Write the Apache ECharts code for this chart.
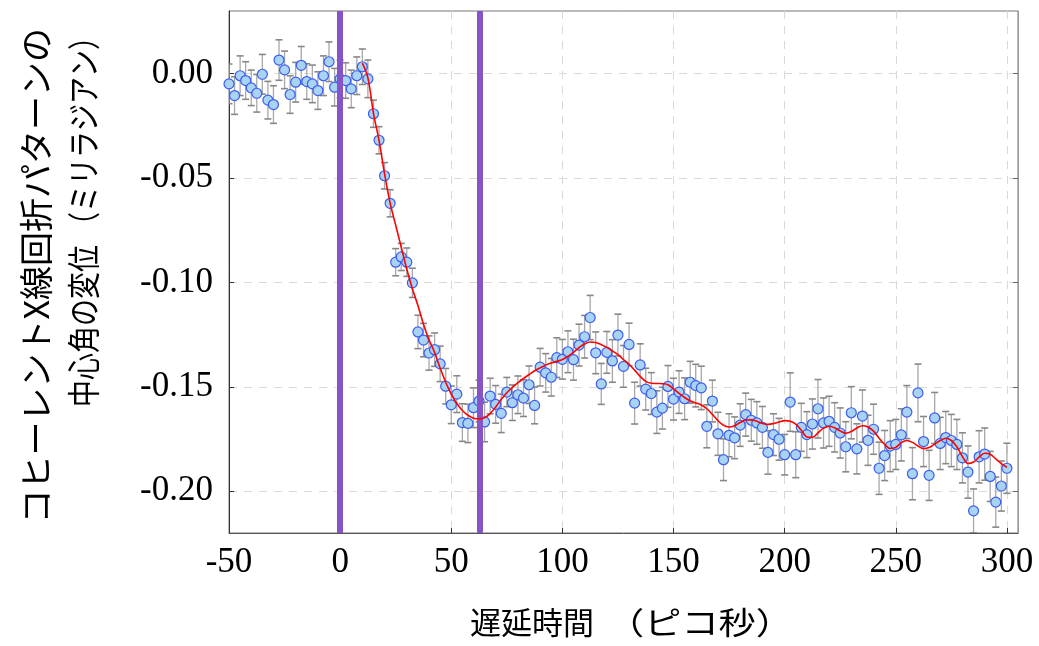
<!DOCTYPE html>
<html>
<head>
<meta charset="utf-8">
<script src="https://cdn.jsdelivr.net/npm/echarts@6/dist/echarts.min.js"></script>
<style>
html,body{margin:0;padding:0;background:#fff;}
#chart{width:1039px;height:646px;}
</style>
</head>
<body>
<div id="chart"></div>
<script>
// ---- data ----
const delay = [-50,-47.5,-45,-42.5,-40,-37.5,-35,-32.5,-30,-27.5,-25,-22.5,-20,-17.5,-15,-12.5,-10,-7.5,-5,-2.5,
  0,2.5,5,7.5,10,12.5,15,17.5,20,22.5,25,27.5,30,32.5,35,37.5,40,42.5,45,47.5,
  50,52.5,55,57.5,60,62.5,65,67.5,70,72.5,75,77.5,80,82.5,85,87.5,90,92.5,95,97.5,
  100,102.5,105,107.5,110,112.5,115,117.5,120,122.5,125,127.5,130,132.5,135,137.5,140,142.5,145,147.5,
  150,152.5,155,157.5,160,162.5,165,167.5,170,172.5,175,177.5,180,182.5,185,187.5,190,192.5,195,197.5,
  200,202.5,205,207.5,210,212.5,215,217.5,220,222.5,225,227.5,230,232.5,235,237.5,240,242.5,245,247.5,
  250,252.5,255,257.5,260,262.5,265,267.5,270,272.5,275,277.5,280,282.5,285,287.5,290,292.5,295,297.5,300];

const shift = [-0.0049,-0.0105,-0.0010,-0.0033,-0.0068,-0.0094,-0.0003,-0.0127,-0.0148,0.0065,
  0.0018,-0.0100,-0.0041,0.0040,-0.0038,-0.0049,-0.0081,-0.0010,0.0057,-0.0065,
  -0.0025,-0.0033,-0.0073,-0.0010,0.0033,-0.0025,-0.0192,-0.0319,-0.0489,-0.0621,
  -0.0903,-0.0878,-0.0903,-0.1002,-0.1237,-0.1276,-0.1338,-0.1322,-0.1390,-0.1497,
  -0.1586,-0.1535,-0.1671,-0.1675,-0.1600,-0.1568,-0.1668,-0.1544,-0.1584,-0.1627,
  -0.1525,-0.1576,-0.1538,-0.1554,-0.1490,-0.1589,-0.1406,-0.1433,-0.1454,-0.1360,
  -0.1368,-0.1332,-0.1370,-0.1300,-0.1260,-0.1168,-0.1337,-0.1486,-0.1335,-0.1376,
  -0.1252,-0.1402,-0.1297,-0.1578,-0.1395,-0.1511,-0.1532,-0.1621,-0.1602,-0.1498,
  -0.1559,-0.1525,-0.1557,-0.1478,-0.1494,-0.1505,-0.1689,-0.1568,-0.1725,-0.1849,
  -0.1732,-0.1744,-0.1683,-0.1633,-0.1660,-0.1673,-0.1694,-0.1814,-0.1729,-0.1751,
  -0.1825,-0.1573,-0.1825,-0.1694,-0.1729,-0.1678,-0.1605,-0.1673,-0.1665,-0.1694,
  -0.1721,-0.1787,-0.1624,-0.1797,-0.1640,-0.1756,-0.1703,-0.1890,-0.1829,-0.1784,
  -0.1776,-0.1730,-0.1621,-0.1916,-0.1529,-0.1762,-0.1924,-0.1649,-0.1771,-0.1743,
  -0.1757,-0.1776,-0.1840,-0.1908,-0.2094,-0.1835,-0.1822,-0.1929,-0.2052,-0.1975,-0.1890];

const errBar = [0.0095,0.009,0.0095,0.009,0.0085,0.009,0.0095,0.009,0.009,0.0097,
  0.009,0.009,0.0095,0.009,0.0085,0.009,0.009,0.0095,0.0095,0.009,
  0.009,0.0085,0.009,0.009,0.0085,0.009,
  0.0065,0.0065,0.0063,0.0065,0.0065,0.0065,0.0068,0.007,
  0.008,0.008,0.0082,0.008,0.0085,0.0085,0.009,0.0088,0.009,0.0092,
  0.0095,0.010,0.0095,0.0085,0.009,0.0092,0.007,0.0085,0.009,0.0088,0.009,0.0088,0.009,0.0092,0.009,0.0095,
  0.0095,0.010,0.0098,0.0100,0.0102,0.0106,0.0100,0.0098,0.0100,0.0102,
  0.0100,0.0100,0.0102,0.0100,0.0101,0.0100,0.0100,0.0102,0.0100,0.0100,
  0.0100,0.0102,0.0100,0.0100,0.0102,0.0104,0.0103,0.0100,0.0103,0.0100,
  0.0103,0.0100,0.0102,0.0103,0.0100,0.0102,0.0100,0.0104,0.0100,0.0100,
  0.0097,0.0140,0.0110,0.0115,0.0110,0.0120,0.0140,0.0120,0.0120,0.0118,
  0.0120,0.0120,0.0125,0.0120,0.0125,0.0120,0.0120,0.0125,0.0120,0.0122,
  0.0120,0.0125,0.0127,0.0125,0.0138,0.0120,0.0120,0.0122,0.0125,0.0125,
  0.0125,0.0120,0.0120,0.0125,0.0105,0.0125,0.0125,0.0120,0.0120,0.0120,0.0120];

const fitDelay = [10,12.5,15,17.5,20,22.5,25,27.5,30,32.5,35,37.5,40,42.5,45,47.5,
  50,52.5,55,57.5,60,62.5,65,67.5,70,72.5,75,77.5,80,82.5,85,87.5,90,92.5,95,97.5,
  100,102.5,105,107.5,110,112.5,115,117.5,120,122.5,125,127.5,130,132.5,135,137.5,140,142.5,145,147.5,
  150,152.5,155,157.5,160,162.5,165,167.5,170,172.5,175,177.5,180,182.5,185,187.5,190,192.5,195,197.5,
  200,202.5,205,207.5,210,212.5,215,217.5,220,222.5,225,227.5,230,232.5,235,237.5,240,242.5,245,247.5,
  250,252.5,255,257.5,260,262.5,265,267.5,270,272.5,275,277.5,280,282.5,285,287.5,290,292.5,295,297.5,300];

const fitShift = [0.0050,-0.0020,-0.0190,-0.0320,-0.0480,-0.0620,-0.0726,-0.0831,-0.0937,-0.1030,
  -0.1110,-0.1200,-0.1275,-0.1335,-0.1410,-0.1478,-0.1535,-0.1580,-0.1613,-0.1636,
  -0.1650,-0.1653,-0.1648,-0.1628,-0.1596,-0.1560,-0.1528,-0.1503,-0.1480,-0.1460,
  -0.1441,-0.1423,-0.1409,-0.1396,-0.1386,-0.1378,-0.1369,-0.1354,-0.1335,-0.1312,
  -0.1295,-0.1285,-0.1288,-0.1298,-0.1311,-0.1328,-0.1346,-0.1369,-0.1392,-0.1420,
  -0.1450,-0.1474,-0.1483,-0.1484,-0.1485,-0.1490,-0.1510,-0.1531,-0.1551,-0.1567,
  -0.1577,-0.1587,-0.1605,-0.1632,-0.1662,-0.1684,-0.1692,-0.1686,-0.1671,-0.1659,
  -0.1658,-0.1665,-0.1675,-0.1680,-0.1676,-0.1668,-0.1662,-0.1665,-0.1678,-0.1708,
  -0.1740,-0.1742,-0.1720,-0.1698,-0.1689,-0.1696,-0.1711,-0.1722,-0.1714,-0.1697,
  -0.1686,-0.1692,-0.1712,-0.1746,-0.1776,-0.1795,-0.1790,-0.1767,-0.1757,-0.1766,
  -0.1783,-0.1796,-0.1791,-0.1774,-0.1757,-0.1746,-0.1757,-0.1787,-0.1834,-0.1867,
  -0.1860,-0.1837,-0.1818,-0.1823,-0.1845,-0.1868,-0.1885];

const markerDelays = [0, 62.7];
const xTicks = [-50, 0, 50, 100, 150, 200, 250, 300];
const yTicks = [-0.2, -0.15, -0.1, -0.05, 0];
const xTitleA = '遅延時間';
const xTitleB = '（ピコ秒）';
const yTitle1 = 'コヒーレントX線回折パターンの';
const yTitle2 = '中心角の変位 （ミリラジアン）';

// ---- chart ----
const chart = echarts.init(document.getElementById('chart'), null, {renderer: 'canvas'});

const points = delay.map((x, i) => [x, shift[i]]);
const bars = delay.map((x, i) => [x, shift[i] - errBar[i], shift[i] + errBar[i]]);
const fit = fitDelay.map((x, i) => [x, fitShift[i]]);

const tickFont = 'Liberation Serif';
const cjk = '"Noto Sans CJK JP"';
const gridDash = [8, 7];

chart.setOption({
  animation: false,
  backgroundColor: '#ffffff',
  grid: {left: 229, right: 21, top: 11, bottom: 113, show: true, borderColor: '#777', borderWidth: 1, backgroundColor: 'transparent'},
  xAxis: {
    type: 'value', min: -50, max: 305,
    axisLine: {show: true, onZero: false, lineStyle: {color: '#555', width: 1}},
    axisTick: {show: true, inside: true, length: 5, customValues: xTicks, lineStyle: {color: '#333'}},
    axisLabel: {customValues: xTicks, fontFamily: tickFont, fontSize: 35, color: '#000', margin: 12},
    splitLine: {show: true, lineStyle: {color: '#d9d9d9', type: gridDash, width: 1}}
  },
  yAxis: [{
    type: 'value', min: -0.22, max: 0.03,
    axisLine: {show: true, onZero: false, lineStyle: {color: '#333', width: 1}},
    axisTick: {show: true, inside: true, length: 5, customValues: yTicks, lineStyle: {color: '#333'}},
    axisLabel: {customValues: yTicks, fontFamily: tickFont, fontSize: 35, color: '#000', margin: 16,
      formatter: v => (Math.abs(v) < 1e-9 ? '0.00' : v.toFixed(2))},
    splitLine: {show: true, lineStyle: {color: '#d9d9d9', type: gridDash, width: 1}}
  }, {
    type: 'value', min: -0.22, max: 0.03, position: 'right',
    axisLine: {show: true, onZero: false, lineStyle: {color: '#999', width: 1}},
    axisTick: {show: true, inside: true, length: 5, customValues: yTicks, lineStyle: {color: '#666'}},
    axisLabel: {show: false},
    splitLine: {show: false}
  }],
  graphic: [
    {type: 'text', x: 36, y: 28, rotation: Math.PI / 2, z: 100,
      style: {text: yTitle1, font: '34px ' + cjk, fill: '#000', textAlign: 'right', textVerticalAlign: 'middle'}},
    {type: 'text', x: 83, y: 23, rotation: Math.PI / 2, scaleY: 1.22, z: 100,
      style: {text: yTitle2, font: '27px ' + cjk, fill: '#000', textAlign: 'right', textVerticalAlign: 'middle'}},
    {type: 'text', x: 532, y: 622, z: 100,
      style: {text: xTitleA, font: '31px ' + cjk, fill: '#000', textAlign: 'center', textVerticalAlign: 'middle'}},
    {type: 'text', x: 700, y: 622, z: 100, scaleX: 1.2,
      style: {text: xTitleB, font: '31px ' + cjk, fill: '#000', textAlign: 'center', textVerticalAlign: 'middle'}}
  ],
  series: [
    {
      type: 'line', data: [], z: 2, silent: true,
      markLine: {
        silent: true, symbol: ['none', 'none'], animation: false,
        label: {show: false},
        lineStyle: {color: '#8953c8', width: 6, type: 'solid'},
        emphasis: {disabled: true},
        data: markerDelays.map(v => ({xAxis: v}))
      }
    },
    {
      type: 'custom', data: bars, z: 3, clip: true, silent: true,
      renderItem: function (params, api) {
        const x = api.value(0);
        const p1 = api.coord([x, api.value(1)]);
        const p2 = api.coord([x, api.value(2)]);
        const w = 3.5;
        const stem = {stroke: '#a8a8a8', lineWidth: 1.3};
        const cap = {stroke: '#888888', lineWidth: 1.6};
        return {type: 'group', children: [
          {type: 'line', shape: {x1: p1[0], y1: p1[1], x2: p2[0], y2: p2[1]}, style: stem},
          {type: 'line', shape: {x1: p1[0] - w, y1: p1[1], x2: p1[0] + w, y2: p1[1]}, style: cap},
          {type: 'line', shape: {x1: p2[0] - w, y1: p2[1], x2: p2[0] + w, y2: p2[1]}, style: cap}
        ]};
      }
    },
    {
      type: 'scatter', data: points, z: 4, symbol: 'circle', symbolSize: 10, silent: true,
      itemStyle: {color: '#a8d3f2', borderColor: '#3b5cf2', borderWidth: 1.2, opacity: 1}
    },
    {
      type: 'line', data: fit, z: 5, smooth: 0.35, showSymbol: false, silent: true,
      lineStyle: {color: '#ff0000', width: 1.6}
    }
  ]
});
</script>
</body>
</html>
